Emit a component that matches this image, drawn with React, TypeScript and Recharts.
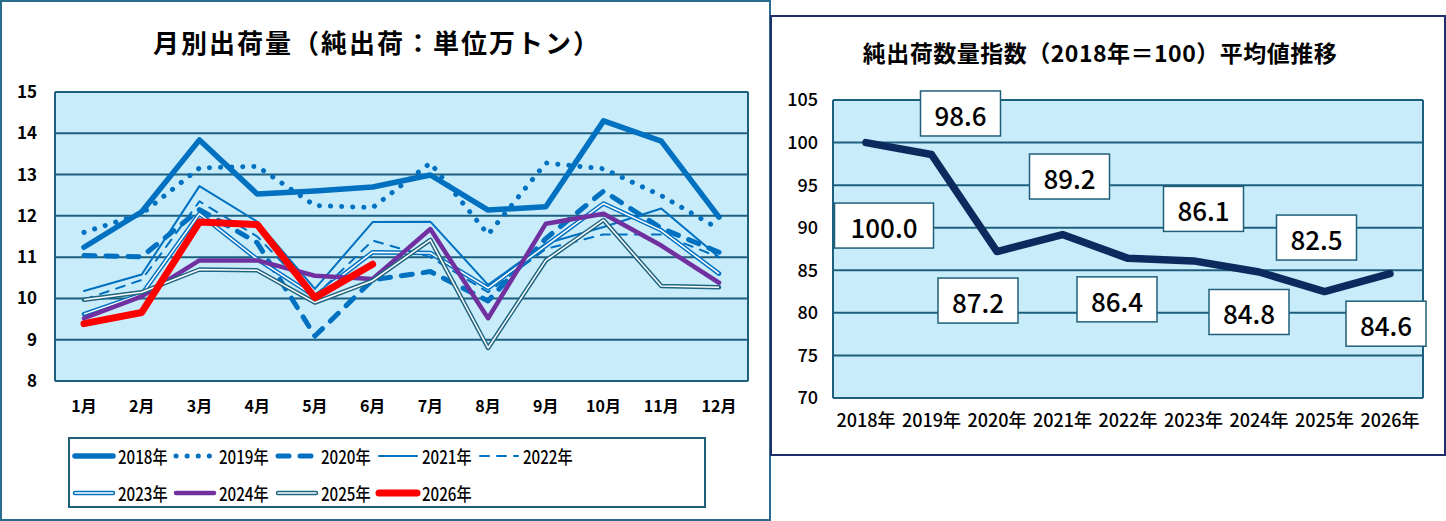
import React from "react";
import { LineChart, Line, XAxis, YAxis, CartesianGrid, LabelList } from "recharts";

// monthly net shipments (10k tons)
const months = ["1月", "2月", "3月", "4月", "5月", "6月", "7月", "8月", "9月", "10月", "11月", "12月"];
const s2018 = [11.24, 12.1, 13.84, 12.53, 12.6, 12.7, 12.99, 12.14, 12.22, 14.3, 13.81, 11.97];
const s2019 = [11.6, 12.05, 13.16, 13.2, 12.25, 12.2, 13.28, 11.55, 13.28, 13.14, 12.49, 11.68];
const s2020 = [11.04, 11.01, 12.15, 11.35, 9.09, 10.45, 10.65, 9.94, 11.45, 12.6, 11.7, 11.12];
const s2021 = [10.18, 10.58, 12.72, 11.86, 10.23, 11.85, 11.86, 10.33, 11.33, 11.73, 12.18, 11.0];
const s2022 = [9.97, 10.45, 12.35, 11.5, 10.05, 11.4, 11.0, 10.15, 11.2, 11.55, 11.55, 11.0];
const s2023 = [9.62, 10.1, 12.05, 10.95, 10.05, 11.12, 11.1, 10.25, 11.28, 12.3, 11.65, 10.6];
const s2024 = [9.52, 10.05, 10.92, 10.92, 10.55, 10.47, 11.68, 9.52, 11.81, 12.05, 11.28, 10.38];
const s2025 = [9.97, 10.15, 10.7, 10.68, 9.9, 10.43, 11.42, 8.8, 10.92, 11.9, 10.3, 10.27];
const s2026 = [9.39, 9.66, 11.85, 11.79, 10.02, 10.83, null, null, null, null, null, null];
const monthTicks = [8, 9, 10, 11, 12, 13, 14, 15];

// yearly index (2018 = 100)
const years = ["2018年", "2019年", "2020年", "2021年", "2022年", "2023年", "2024年", "2025年", "2026年"];
const indexValues = [100.0, 98.6, 87.2, 89.2, 86.4, 86.1, 84.8, 82.5, 84.6];
const indexTicks = [70, 75, 80, 85, 90, 95, 100, 105];

const FONT = '"Noto Sans CJK JP", "Noto Sans", sans-serif';
const BLUE = "#0070C0";
const GRID = "#1D5F7E";
const PLOT_BG = "#C9ECFB";

type SeriesStyle = {
  key: string;
  name: string;
  color: string;
  width: number;
  dash?: string;
  double?: boolean;
};

const seriesStyles: SeriesStyle[] = [
  { key: "y2018", name: "2018年", color: BLUE, width: 5.5 },
  { key: "y2019", name: "2019年", color: BLUE, width: 5, dash: "0.1 11" },
  { key: "y2020", name: "2020年", color: BLUE, width: 5, dash: "11 11" },
  { key: "y2021", name: "2021年", color: BLUE, width: 2 },
  { key: "y2022", name: "2022年", color: BLUE, width: 2, dash: "9 8" },
  { key: "y2023", name: "2023年", color: BLUE, width: 4.5, double: true },
  { key: "y2024", name: "2024年", color: "#7030A0", width: 4.5 },
  { key: "y2025", name: "2025年", color: "#1F6480", width: 4.5, double: true },
  { key: "y2026", name: "2026年", color: "#FF0000", width: 7 },
];

const monthlyData = months.map((month, i) => ({
  month,
  y2018: s2018[i],
  y2019: s2019[i],
  y2020: s2020[i],
  y2021: s2021[i],
  y2022: s2022[i],
  y2023: s2023[i],
  y2024: s2024[i],
  y2025: s2025[i],
  y2026: s2026[i],
}));

const indexData = years.map((year, i) => ({ year, value: indexValues[i] }));

// label box centre relative to its point
const labelOffsets = [
  [18, 83],
  [29, -41],
  [-19, 49],
  [7, -58],
  [-11, 41],
  [10, -52],
  [-10, 40],
  [-8, -54],
  [-4, 50],
];

const IndexLabel = (props: any) => {
  const { x, y, value, index } = props;
  const [dx, dy] = labelOffsets[index] || [0, -40];
  const text = Number(value).toFixed(1);
  const w = text.length > 4 ? 99 : 80;
  const h = 45;
  const cx = x + dx;
  const cy = y + dy;
  return (
    <g>
      <rect x={cx - w / 2} y={cy - h / 2} width={w} height={h} fill="#fff" stroke="#1F5F7A" strokeWidth={1.5} />
      <text
        x={cx}
        y={cy + 1}
        textAnchor="middle"
        dominantBaseline="central"
        fontSize={26}
        fontWeight={500}
        fontFamily={FONT}
        fill="#000"
      >
        {text}
      </text>
    </g>
  );
};

const LegendSample = ({ s }: { s: SeriesStyle }) => (
  <svg width={46} height={14} style={{ display: "block" }}>
    <line
      x1={4}
      y1={7}
      x2={42}
      y2={7}
      stroke={s.color}
      strokeWidth={s.width}
      strokeDasharray={s.dash}
      strokeLinecap="round"
    />
    {s.double && <line x1={4} y1={7} x2={42} y2={7} stroke="#fff" strokeWidth={s.width - 3} strokeLinecap="round" />}
  </svg>
);

const MonthlyLegend = () => (
  <div
    style={{
      position: "absolute",
      left: 68,
      top: 437,
      width: 638,
      height: 71,
      border: "2px solid #1F5F7A",
      boxSizing: "border-box",
      fontFamily: FONT,
      fontSize: 18,
      fontWeight: 500,
    }}
  >
    {seriesStyles.map((s, i) => (
      <div
        key={s.key}
        style={{
          position: "absolute",
          left: 1 + (i % 5) * 101.3,
          top: 5 + Math.floor(i / 5) * 37,
          display: "flex",
          alignItems: "center",
          height: 24,
        }}
      >
        <LegendSample s={s} />
        <span
          style={{
            display: "inline-block",
            marginLeft: 1,
            transform: "scaleX(0.84)",
            transformOrigin: "left center",
            whiteSpace: "nowrap",
          }}
        >
          {s.name}
        </span>
      </div>
    ))}
  </div>
);

const frameGrid = ({ offset }: any) => [offset.left, offset.left + offset.width];

const MonthlyChart = () => (
  <div style={{ position: "absolute", left: 0, top: 0, width: 771, height: 521 }}>
    <div
      style={{
        position: "absolute",
        inset: 0,
        border: "2px solid #2A6C8C",
        boxSizing: "border-box",
      }}
    />
    <div
      style={{
        position: "absolute",
        left: 0,
        top: 24,
        width: 754,
        textAlign: "center",
        fontFamily: FONT,
        fontWeight: "bold",
        fontSize: 26,
        letterSpacing: 2,
        lineHeight: "36px",
      }}
    >
      月別出荷量（純出荷：単位万トン）
    </div>
    <div style={{ position: "absolute", left: 0, top: 0 }}>
      <LineChart width={770} height={520} data={monthlyData} margin={{ top: 92, right: 22, bottom: 99, left: 0 }}>
        <CartesianGrid
          fill={PLOT_BG}
          fillOpacity={1}
          stroke={GRID}
          strokeWidth={2}
          verticalCoordinatesGenerator={frameGrid}
        />
        <XAxis
          dataKey="month"
          interval={0}
          padding={{ left: 29, right: 29 }}
          axisLine={false}
          tickLine={false}
          tickSize={0}
          tickMargin={20}
          height={40}
          tick={{ fontSize: 16, fontWeight: "bold", fill: "#000", fontFamily: FONT }}
        />
        <YAxis
          domain={[8, 15]}
          ticks={monthTicks}
          interval={0}
          width={55}
          axisLine={false}
          tickLine={false}
          tickSize={0}
          tickMargin={18}
          tick={{ fontSize: 17, fontWeight: "bold", fill: "#000", fontFamily: FONT }}
        />
        {seriesStyles.map((s) => [
          <Line
            key={s.key}
            dataKey={s.key}
            name={s.name}
            stroke={s.color}
            strokeWidth={s.width}
            strokeDasharray={s.dash}
            strokeLinecap="round"
            strokeLinejoin="round"
            dot={false}
            activeDot={false}
            isAnimationActive={false}
          />,
          s.double ? (
            <Line
              key={s.key + "-inner"}
              dataKey={s.key}
              stroke="#fff"
              strokeWidth={s.width - 3}
              strokeLinejoin="round"
              dot={false}
              activeDot={false}
              legendType="none"
              isAnimationActive={false}
            />
          ) : null,
        ])}
      </LineChart>
    </div>
    <MonthlyLegend />
  </div>
);

const IndexChart = () => (
  <div style={{ position: "absolute", left: 770, top: 15, width: 676, height: 441 }}>
    <div
      style={{
        position: "absolute",
        inset: 0,
        border: "2px solid #1F2F6B",
        boxSizing: "border-box",
      }}
    />
    <div
      style={{
        position: "absolute",
        left: 0,
        top: 21,
        width: 660,
        textAlign: "center",
        fontFamily: FONT,
        fontWeight: "bold",
        fontSize: 23,
        letterSpacing: 0.5,
        lineHeight: "32px",
      }}
    >
      純出荷数量指数（2018年＝100）平均値推移
    </div>
    <div style={{ position: "absolute", left: 0, top: 0 }}>
      <LineChart width={676} height={441} data={indexData} margin={{ top: 85, right: 23, bottom: 23, left: 0 }}>
        <CartesianGrid
          fill={PLOT_BG}
          fillOpacity={1}
          stroke={GRID}
          strokeWidth={2}
          verticalCoordinatesGenerator={frameGrid}
        />
        <XAxis
          dataKey="year"
          interval={0}
          padding={{ left: 33, right: 33 }}
          axisLine={false}
          tickLine={false}
          tickSize={0}
          tickMargin={16}
          height={35}
          tick={{ fontSize: 18, fontWeight: 500, fill: "#000", fontFamily: FONT }}
        />
        <YAxis
          domain={[70, 105]}
          ticks={indexTicks}
          interval={0}
          width={63}
          axisLine={false}
          tickLine={false}
          tickSize={0}
          tickMargin={15}
          tick={{ fontSize: 18, fontWeight: 500, fill: "#000", fontFamily: FONT }}
        />
        <Line
          dataKey="value"
          stroke="#0D2A5E"
          strokeWidth={7.5}
          strokeLinejoin="round"
          strokeLinecap="round"
          dot={false}
          activeDot={false}
          isAnimationActive={false}
        >
          <LabelList dataKey="value" content={IndexLabel} />
        </Line>
      </LineChart>
    </div>
  </div>
);

export default function App() {
  return (
    <div style={{ position: "absolute", left: 0, top: 0, width: 1446, height: 521, background: "#fff" }}>
      <MonthlyChart />
      <IndexChart />
    </div>
  );
}
